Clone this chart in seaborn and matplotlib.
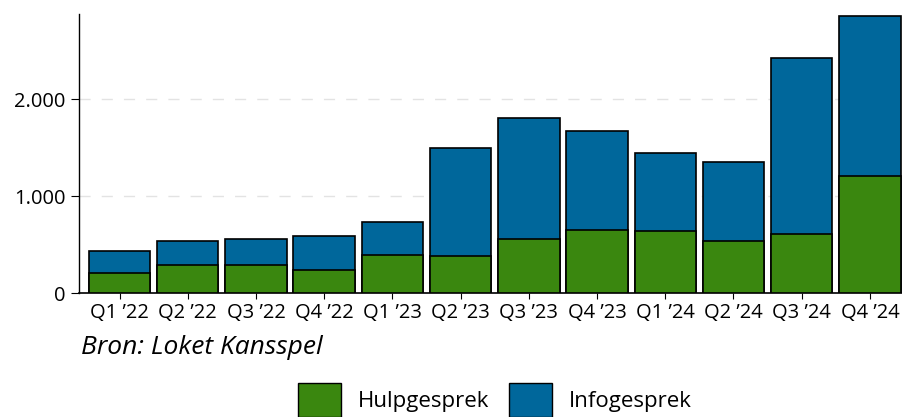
import numpy as np
import pandas as pd
import matplotlib.pyplot as plt
import seaborn as sns
from matplotlib.patches import Patch
from matplotlib.ticker import FuncFormatter

# data
kwartalen = ["Q1 ’22", "Q2 ’22", "Q3 ’22", "Q4 ’22", "Q1 ’23", "Q2 ’23",
             "Q3 ’23", "Q4 ’23", "Q1 ’24", "Q2 ’24", "Q3 ’24", "Q4 ’24"]
hulpgesprek = [210, 295, 295, 245, 395, 380, 555, 655, 645, 540, 610, 1210]
infogesprek = [226, 244, 265, 346, 336, 1115, 1249, 1022, 802, 817, 1816, 1649]

groen = "#3A870F"
blauw = "#00679B"

df = pd.DataFrame({"kwartaal": kwartalen,
                   "Hulpgesprek": hulpgesprek,
                   "Infogesprek": infogesprek})
df["totaal"] = df["Hulpgesprek"] + df["Infogesprek"]

sns.set_theme(style="white")
plt.rcParams['font.family'] = ['Open Sans', 'DejaVu Sans']
plt.rcParams['text.color'] = 'black'

fig = plt.figure(figsize=(9.02, 4.17), dpi=100)
ax = fig.add_axes([79/902, (417-293.3)/417, (902-79)/902, (293.3-14)/417])

# stacked bars: total in blue, green part drawn over it
sns.barplot(data=df, x="kwartaal", y="totaal", color=blauw, saturation=1,
            width=0.9, edgecolor="black", linewidth=1.2, ax=ax, zorder=3)
sns.barplot(data=df, x="kwartaal", y="Hulpgesprek", color=groen, saturation=1,
            width=0.9, edgecolor="black", linewidth=1.2, ax=ax, zorder=3)

ax.set_xlim(-0.594, 11.47)
ax.set_ylim(0, 2879)
ax.set_yticks([0, 1000, 2000])
ax.yaxis.set_major_formatter(FuncFormatter(lambda v, p: f"{int(v):,}".replace(",", ".")))
ax.set_xlabel("")
ax.set_ylabel("")

for y in [1000, 2000]:
    ax.axhline(y, color="#e3e3e3", lw=1, ls=(0, (8, 8)), zorder=1)

sns.despine(ax=ax, top=True, right=True)
ax.spines["left"].set_color("black")
ax.spines["bottom"].set_color("black")
ax.spines["left"].set_linewidth(1)
ax.spines["bottom"].set_linewidth(1.2)
ax.tick_params(axis="x", bottom=True, length=4.3, width=0.8, pad=3,
               labelsize=14.5, colors="black")
ax.tick_params(axis="y", left=True, length=5.8, width=0.8, pad=4,
               labelsize=14.5, colors="black")

fig.text(81/902, 1 - 354/417, "Bron: Loket Kansspel", style="italic",
         fontsize=19, va="baseline", ha="left", color="black")

handles = [Patch(facecolor=groen, edgecolor="black", lw=1, label="Hulpgesprek"),
           Patch(facecolor=blauw, edgecolor="black", lw=1, label="Infogesprek")]
leg = fig.legend(handles=handles, loc="center", bbox_to_anchor=(495/902, 1 - 400/417),
                 ncol=2, frameon=False, fontsize=16, handlelength=1.94, handleheight=2.0,
                 handletextpad=0.77, columnspacing=0.86, borderpad=0)
for t in leg.get_texts():
    t.set_color("black")

fig.savefig("out.png", dpi=100)
